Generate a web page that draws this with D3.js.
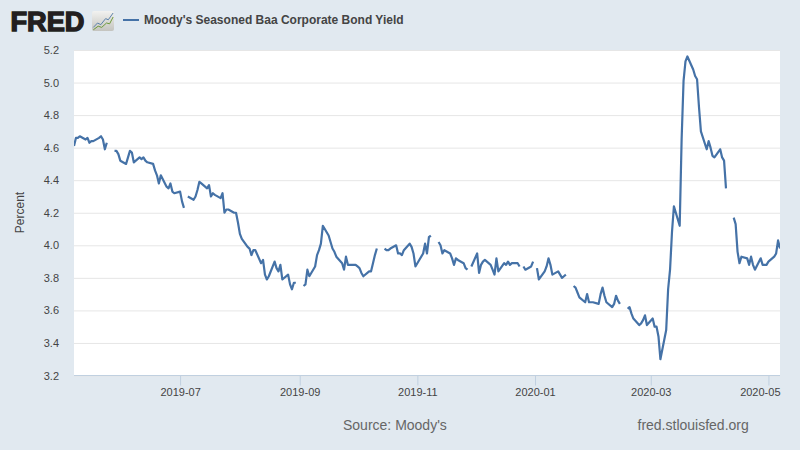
<!DOCTYPE html>
<html>
<head>
<meta charset="utf-8">
<script src="https://cdn.jsdelivr.net/npm/d3@7"></script>
<style>
  html, body { margin: 0; padding: 0; background: #e1e9f0; }
  svg { display: block; font-family: "Liberation Sans", Arial, sans-serif; }
</style>
</head>
<body>
<svg id="chart" width="800" height="450"></svg>
<script>
const SERIES_NAME = "Moody's Seasoned Baa Corporate Bond Yield";
const SOURCE_TEXT = "Source: Moody's";
const SITE_TEXT = "fred.stlouisfed.org";
const Y_LABEL = "Percent";
const LINE_COLOR = "#4572a7";

const yTicks = [3.2, 3.4, 3.6, 3.8, 4.0, 4.2, 4.4, 4.6, 4.8, 5.0, 5.2];
const xTickLabels = ["2019-07", "2019-09", "2019-11", "2020-01", "2020-03", "2020-05"];

// one value per weekday from 2019-05-07, null on bond market holidays
const yields = [
  4.61, 4.66, 4.66, 4.67, 4.65, 4.66, 4.63, 4.64, 4.64, 4.66, 4.67, 4.65, 4.59, 4.63,
  null,
  4.58, 4.58, 4.56, 4.52, 4.50, 4.54, 4.58, 4.57, 4.51, 4.54, 4.53, 4.54, 4.52, 4.51,
  4.50, 4.46, 4.43, 4.38, 4.43, 4.36, 4.35, 4.38, 4.33, 4.32, 4.33, 4.27, 4.23,
  null,
  4.30, 4.28, 4.30, 4.34, 4.39, 4.38, 4.35, 4.37, 4.30, 4.32, 4.31, 4.29, 4.32, 4.20,
  4.22, 4.22, 4.20, 4.20, 4.14, 4.07, 4.04, 3.99, 3.98, 3.94, 3.97, 3.97, 3.89, 3.91,
  3.82, 3.79, 3.81, 3.90, 3.86, 3.84, 3.88, 3.79, 3.82, 3.76, 3.73, 3.77, 3.77,
  null,
  3.75, 3.76, 3.85, 3.81, 3.87, 3.94, 3.97, 4.01, 4.12, 4.06, 4.02, 3.98, 3.96, 3.93,
  3.89, 3.85, 3.93, 3.88, 3.88, 3.88, 3.87, 3.86, 3.83, 3.81, 3.84, 3.84, 3.89, 3.94, 3.98,
  null,
  3.98, 3.97, 3.97, 3.98, 4.00, 3.95, 3.95, 3.94, 3.97, 4.01, 3.99, 3.95, 3.87, 3.89,
  3.95, 4.01, 3.95, 4.05, 4.06,
  null,
  4.02, 4.00, 3.95, 3.97, 3.95, 3.92, 3.88, 3.92, 3.91, 3.89, 3.86, 3.85,
  null,
  3.87, 3.95, 3.83, 3.88, 3.90, 3.91, 3.88, 3.85, 3.82, 3.92, 3.84, 3.89, 3.88, 3.90,
  3.88, 3.89, 3.89, 3.87,
  null,
  3.87, 3.85, 3.87, 3.90,
  null,
  3.86, 3.79, 3.84, 3.87, 3.92, 3.88, 3.82, 3.84, 3.82, 3.80, 3.81, 3.82,
  null,
  3.75, 3.74, 3.71, 3.68, 3.65, 3.70, 3.65, 3.65, 3.65, 3.64, 3.70, 3.74, 3.69, 3.65,
  3.62, 3.64, 3.69, 3.66, 3.64,
  null,
  3.61, 3.62, 3.58, 3.55, 3.51, 3.52, 3.54, 3.57, 3.51, 3.55, 3.50, 3.50, 3.44, 3.30,
  3.48, 3.73, 3.85, 4.08, 4.24, 4.12, 4.65, 5.01, 5.13, 5.16, 5.08, 5.04, 5.02, 4.85,
  4.70, 4.59, 4.64, 4.60, 4.55, 4.54, 4.59, 4.54, 4.52, 4.35,
  null,
  4.17, 4.13, 3.96, 3.89, 3.93, 3.92, 3.88, 3.93, 3.88, 3.85, 3.92, 3.88, 3.88, 3.88,
  3.90, 3.93, 3.95, 4.03, 3.98
];

// little chart in the logo, as fractions of the icon box
const logoBlue = [[0.06, 0.82], [0.25, 0.6], [0.4, 0.68], [0.62, 0.38], [0.74, 0.44], [0.96, 0.1]];
const logoGreen = [[0.06, 0.94], [0.28, 0.76], [0.44, 0.82], [0.66, 0.6], [0.8, 0.64], [0.96, 0.3]];

const parseDay = d3.utcParse("%Y-%m-%d");
const parseMonth = d3.utcParse("%Y-%m");
const firstDay = parseDay("2019-05-07");
const lastDay = parseDay("2020-05-07");

const allDays = d3.utcDay.range(firstDay, d3.utcDay.offset(lastDay, 1));
const weekdays = allDays.filter(d => d.getUTCDay() > 0 && d.getUTCDay() < 6);
const points = weekdays.map((d, i) => ({ date: d, value: yields[i] }));
console.log("weekdays", weekdays.length, "values", yields.length);

const plot = { left: 74, right: 780, top: 50, bottom: 375.5 };

const svg = d3.select("#chart");

const x = d3.scaleUtc().domain([firstDay, lastDay]).range([plot.left, plot.right]);
const y = d3.scaleLinear().domain([3.2, 5.2]).range([plot.bottom, plot.top]);

svg.append("rect")
  .attr("x", plot.left).attr("y", plot.top)
  .attr("width", plot.right - plot.left).attr("height", plot.bottom - plot.top)
  .attr("fill", "#fff");

// y axis + grid
const yAxis = d3.axisLeft(y)
  .tickValues(yTicks)
  .tickSize(plot.left - plot.right)
  .tickPadding(15)
  .tickFormat(d3.format(".1f"));
const gy = svg.append("g").attr("transform", `translate(${plot.left},0)`).call(yAxis);
gy.select(".domain").remove();
gy.selectAll(".tick line").attr("stroke", "#e6e6e6");
gy.selectAll(".tick text").attr("fill", "#444").style("font-size", "11px");

// x axis
const xAxis = d3.axisBottom(x)
  .tickValues(xTickLabels.map(parseMonth))
  .tickSize(10)
  .tickPadding(3)
  .tickFormat(d3.utcFormat("%Y-%m"));
const gx = svg.append("g").attr("transform", `translate(0,${plot.bottom})`).call(xAxis);
gx.select(".domain").attr("stroke", "#c0d0e0").attr("d", `M${plot.left},0H${plot.right}`);
gx.selectAll(".tick line").attr("stroke", "#c0d0e0");
gx.selectAll(".tick text").attr("fill", "#444").style("font-size", "11px");
// last label is pushed back inside the plot edge, like the original
gx.selectAll(".tick:last-of-type text")
  .attr("text-anchor", "end")
  .attr("x", plot.right - x(parseMonth(xTickLabels[xTickLabels.length - 1])));

svg.append("clipPath").attr("id", "plot-clip")
  .append("rect")
  .attr("x", plot.left).attr("y", plot.top)
  .attr("width", plot.right - plot.left).attr("height", plot.bottom - plot.top);

const line = d3.line()
  .defined(d => d.value !== null)
  .x(d => x(d.date))
  .y(d => y(d.value));

svg.append("path")
  .datum(points)
  .attr("clip-path", "url(#plot-clip)")
  .attr("fill", "none")
  .attr("stroke", LINE_COLOR)
  .attr("stroke-width", 2.2)
  .attr("stroke-linejoin", "round")
  .attr("d", line);

// y label
svg.append("text")
  .attr("transform", "translate(24,212.5) rotate(-90)")
  .attr("text-anchor", "middle")
  .attr("fill", "#444")
  .style("font-size", "12px")
  .text(Y_LABEL);

// legend
svg.append("line")
  .attr("x1", 123).attr("x2", 139).attr("y1", 20).attr("y2", 20)
  .attr("stroke", LINE_COLOR).attr("stroke-width", 2);
svg.append("text")
  .attr("x", 144).attr("y", 24)
  .attr("fill", "#444")
  .style("font-size", "12px").style("font-weight", "bold")
  .text(SERIES_NAME);

// footer
svg.append("text")
  .attr("x", 343).attr("y", 430)
  .attr("fill", "#666").style("font-size", "14px")
  .text(SOURCE_TEXT);
svg.append("text")
  .attr("x", 637.5).attr("y", 430)
  .attr("fill", "#666").style("font-size", "14px")
  .text(SITE_TEXT);

// logo
svg.append("text")
  .attr("x", 10.5).attr("y", 30.5)
  .attr("textLength", 74)
  .attr("lengthAdjust", "spacingAndGlyphs")
  .attr("fill", "#231f20")
  .attr("stroke", "#231f20")
  .attr("stroke-width", 1.4)
  .style("font-size", "27px").style("font-weight", "bold")
  .text("FRED");

const grad = svg.append("defs").append("linearGradient")
  .attr("id", "logo-bg").attr("x1", 0).attr("y1", 0).attr("x2", 0).attr("y2", 1);
grad.append("stop").attr("offset", "0%").attr("stop-color", "#f2f2f0");
grad.append("stop").attr("offset", "100%").attr("stop-color", "#c4c4bf");

const logo = svg.append("g").attr("transform", "translate(92,11)");
logo.append("rect")
  .attr("width", 22).attr("height", 20).attr("rx", 2)
  .attr("fill", "url(#logo-bg)");
const logoLine = d3.line().x(d => d[0] * 22).y(d => d[1] * 20);
logo.append("path").attr("d", logoLine(logoBlue))
  .attr("fill", "none").attr("stroke", "#5b82ab").attr("stroke-width", 1);
logo.append("path").attr("d", logoLine(logoGreen))
  .attr("fill", "none").attr("stroke", "#6d9a3c").attr("stroke-width", 1);
</script>
</body>
</html>
